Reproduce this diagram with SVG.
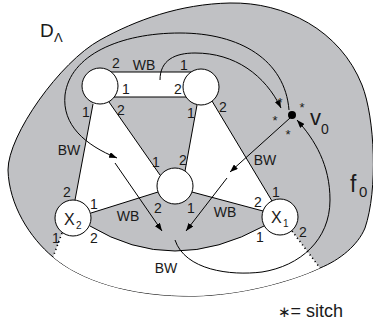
<svg xmlns="http://www.w3.org/2000/svg" width="373" height="326" viewBox="0 0 373 326">
  <defs>
    <marker id="arr" viewBox="0 0 8 6" refX="8" refY="3" markerWidth="8" markerHeight="6" markerUnits="userSpaceOnUse" orient="auto">
      <path d="M0,0 L8,3 L0,6 Z" fill="#000"/>
    </marker>
  </defs>
  <style>
    .face { fill: #fff; stroke: none; }
    .edge { fill: none; stroke: #000; stroke-width: 1; }
    .dot { fill: none; stroke: #000; stroke-width: 1.6; stroke-dasharray: 1.2 3; }
    .arc { fill: none; stroke: #000; stroke-width: 1; marker-end: url(#arr); }
    .node { fill: #fff; stroke: #000; stroke-width: 1; }
    text { font-family: "Liberation Sans", Arial, "DejaVu Sans", sans-serif; fill: #1a1a1a; }
    .lbl { font-size: 14px; text-anchor: middle; }
    .star { font-size: 13px; text-anchor: middle; }
  </style>

  <!-- disc D_Lambda -->
  <path id="disc" d="M 8,170 C 8,135 60,62 100,40 C 136,20 180,4 230,3 C 285,2 340,30 362,85 C 375,118 378,190 365,228 C 358,245 340,260 320,268 C 290,282 240,295 195,296 C 130,297 80,280 53,257 C 30,238 9,205 8,170 Z" fill="#c0c1c4" stroke="#000" stroke-width="1"/>

  <!-- white faces -->
  <g id="faces">
    <polygon class="face" points="100,86 111,72 191,72 201,87 186,97 114,97"/>
    <polygon class="face" points="100,86 109,102 160,175 175,186 158,192 91,213 73,218 75,200 93,104"/>
    <polygon class="face" points="201,87 212,101 272,201 280,217 263,211 192,192 175,186 185,171 197,105"/>
    <path class="face" d="M 73,218 L 90,226 Q 173,276 264,226 L 280,217 L 292,231 L 320,268 C 290,282 240,295 195,296 C 130,297 80,280 53,257 L 62,233 Z"/>
  </g>

  <!-- connectors -->
  <g id="connectors">
    <line class="edge" x1="111" y1="72" x2="191" y2="72"/>
    <line class="edge" x1="114" y1="97" x2="186" y2="97"/>
    <line class="edge" x1="93" y1="104" x2="75" y2="200"/>
    <line class="edge" x1="109" y1="102" x2="160" y2="175"/>
    <line class="edge" x1="197" y1="105" x2="185" y2="171"/>
    <line class="edge" x1="212" y1="101" x2="272" y2="201"/>
    <line class="edge" x1="158" y1="192" x2="91" y2="213"/>
    <line class="edge" x1="192" y1="192" x2="263" y2="211"/>
    <path class="edge" d="M 90,226 Q 173,276 264,226"/>
    <line class="dot" x1="62" y1="233" x2="53" y2="257"/>
    <line class="dot" x1="292" y1="231" x2="320" y2="268"/>

    <path class="arc" d="M 289,110 C 285,60 240,33 180,33 C 120,33 70,55 65,95 C 62,125 85,145 117,158"/>
    <path class="arc" d="M 160,80 C 160,60 175,53 195,53 C 235,53 265,75 281,108"/>
    <line class="arc" x1="115" y1="163" x2="162" y2="231"/>
    <line class="arc" x1="290" y1="118" x2="230" y2="172"/>
    <line class="arc" x1="227" y1="178" x2="186" y2="231"/>
    <path class="arc" d="M 175,240 C 185,270 230,276 262,272 C 300,266 330,240 330,200 C 330,165 315,140 297,120"/>
  </g>

  <!-- vertices -->
  <g id="node-a"><circle class="node" cx="100" cy="86" r="18"/></g>
  <g id="node-b"><circle class="node" cx="201" cy="87" r="18"/></g>
  <g id="node-c"><circle class="node" cx="175" cy="186" r="18"/></g>
  <g id="node-x2">
    <circle class="node" cx="73" cy="218" r="18"/>
    <text x="64" y="225" font-size="16">X</text>
    <text x="76" y="229" font-size="10">2</text>
  </g>
  <g id="node-x1">
    <circle class="node" cx="280" cy="217" r="18"/>
    <text x="271" y="223" font-size="16">X</text>
    <text x="283" y="227" font-size="10">1</text>
  </g>
  <g id="node-v0">
    <circle cx="292" cy="115" r="4" fill="#000"/>
    <text class="star" x="280" y="107">*</text>
    <text class="star" x="302" y="112">*</text>
    <text class="star" x="275" y="125">*</text>
    <text class="star" x="288" y="139">*</text>
    <text x="310" y="125" font-size="22">v</text>
    <text x="321" y="134" font-size="14">0</text>
  </g>

  <!-- region and port labels -->
  <g id="labels">
    <text x="40" y="37" font-size="19">D</text>
    <text x="54" y="42" font-size="13">Λ</text>
    <text x="350" y="192" font-size="23">f</text>
    <text x="359" y="197" font-size="15">0</text>

    <text class="lbl" x="116" y="68">2</text>
    <text class="lbl" x="144" y="70">WB</text>
    <text class="lbl" x="184" y="70">1</text>
    <text class="lbl" x="126" y="94">1</text>
    <text class="lbl" x="178" y="94">2</text>
    <text class="lbl" x="86" y="117">1</text>
    <text class="lbl" x="121" y="115">2</text>
    <text class="lbl" x="191" y="118">1</text>
    <text class="lbl" x="223" y="112">2</text>
    <text class="lbl" x="69" y="155">BW</text>
    <text class="lbl" x="156" y="167">1</text>
    <text class="lbl" x="183" y="165">2</text>
    <text class="lbl" x="158" y="213">2</text>
    <text class="lbl" x="191" y="213">1</text>
    <text class="lbl" x="128" y="221">WB</text>
    <text class="lbl" x="225" y="217">WB</text>
    <text class="lbl" x="265" y="165">BW</text>
    <text class="lbl" x="276" y="197">1</text>
    <text class="lbl" x="258" y="207">2</text>
    <text class="lbl" x="260" y="242">1</text>
    <text class="lbl" x="303" y="237">2</text>
    <text class="lbl" x="67" y="197">2</text>
    <text class="lbl" x="94" y="209">1</text>
    <text class="lbl" x="94" y="243">2</text>
    <text class="lbl" x="56" y="243">1</text>
    <text class="lbl" x="166" y="273">BW</text>

    <text x="278" y="317" font-size="18"><tspan font-size="15">∗</tspan>= sitch</text>
  </g>
</svg>
